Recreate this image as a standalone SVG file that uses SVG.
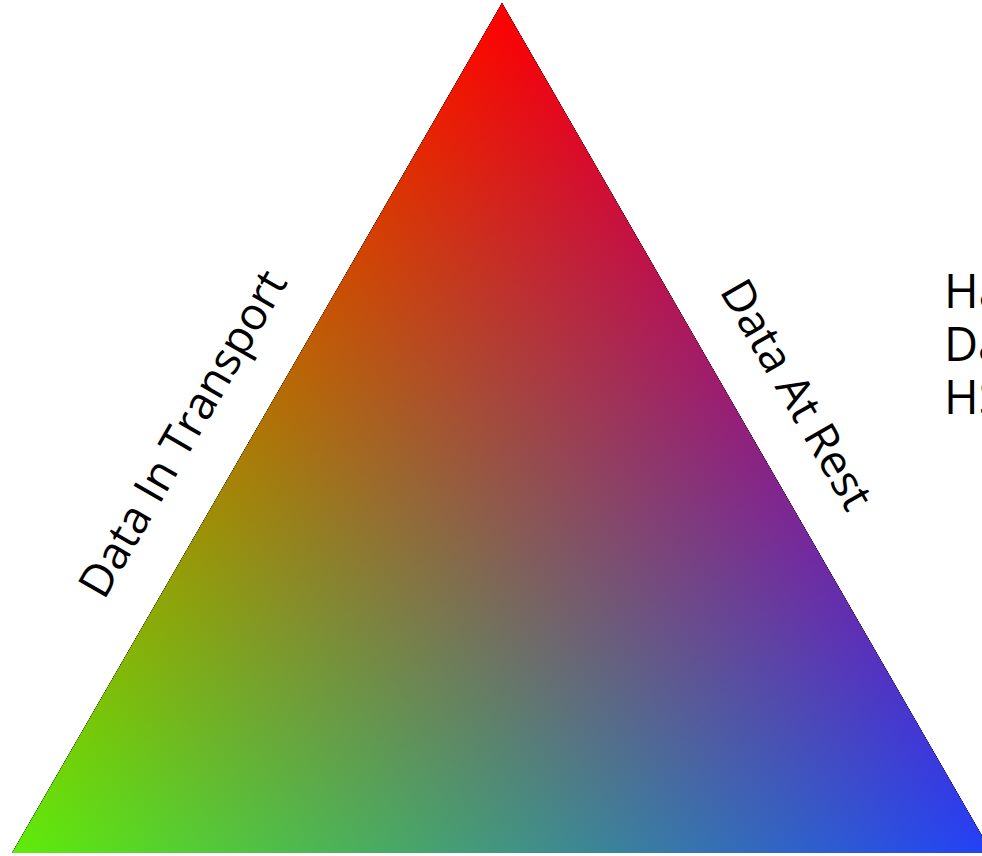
<svg xmlns="http://www.w3.org/2000/svg" width="982" height="856" viewBox="0 0 982 856">
  <style>
    .lbl { font-family: "Open Sans", "Noto Sans", "DejaVu Sans", sans-serif; font-size: 47px; fill: #000; }
    .rot { font-size: 45px; }
    .add { mix-blend-mode: plus-lighter; }
  </style>
  <defs>
    <linearGradient id="gR" gradientUnits="userSpaceOnUse" x1="502" y1="3" x2="502" y2="853">
      <stop offset="0" stop-color="#ff0000"/>
      <stop offset="1" stop-color="#000000"/>
    </linearGradient>
    <linearGradient id="gG" gradientUnits="userSpaceOnUse" x1="12" y1="853" x2="747.6" y2="429">
      <stop offset="0" stop-color="#5fec0a"/>
      <stop offset="1" stop-color="#000000"/>
    </linearGradient>
    <linearGradient id="gB" gradientUnits="userSpaceOnUse" x1="992" y1="853" x2="256.4" y2="429">
      <stop offset="0" stop-color="#2340f8"/>
      <stop offset="1" stop-color="#000000"/>
    </linearGradient>
    <polygon id="tri" points="502,3 12,853 992,853"/>
  </defs>
  <rect width="982" height="856" fill="#ffffff"/>
  <g id="triangle" style="isolation:isolate">
    <use href="#tri" fill="url(#gR)"/>
    <use href="#tri" fill="url(#gG)" class="add"/>
    <use href="#tri" fill="url(#gB)" class="add"/>
  </g>
  <g id="label-transport">
    <text class="lbl rot" transform="translate(104,601) rotate(-60)">Data In Transport</text>
  </g>
  <g id="label-rest">
    <text class="lbl rot" transform="translate(719,291) rotate(60)">Data At Rest</text>
  </g>
  <g id="label-side">
    <text class="lbl" x="944" y="308">Ha</text>
    <text class="lbl" x="944" y="361">Da</text>
    <text class="lbl" x="944" y="414">HS</text>
  </g>
</svg>
